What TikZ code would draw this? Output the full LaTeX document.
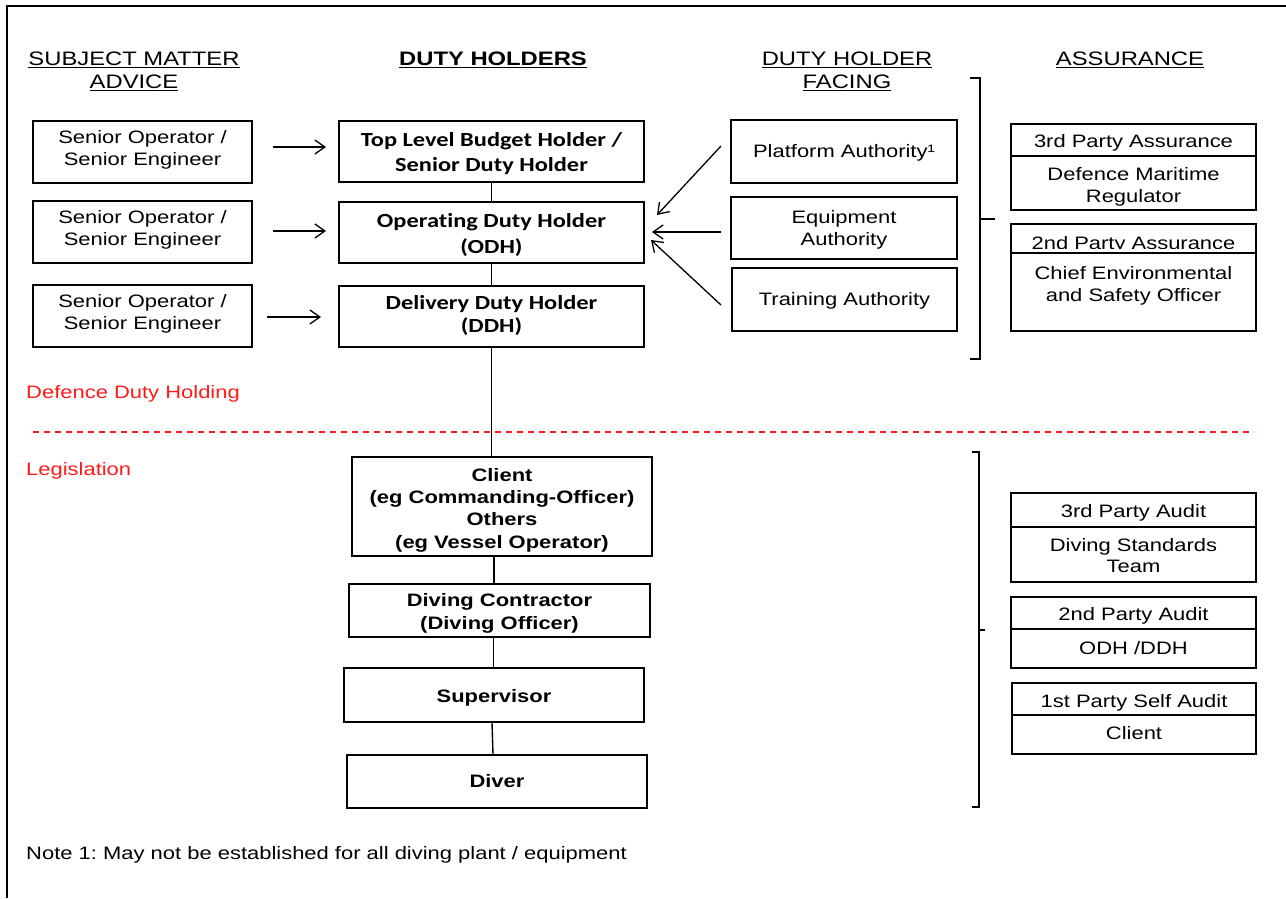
\documentclass[tikz,border=0pt]{standalone}
\usepackage{fontspec}
\setmainfont{Liberation Sans}[FakeStretch=1.22]
\newfontfamily\calfont{Carlito}[FakeStretch=1.22, Ligatures=NoCommon]
\usetikzlibrary{arrows.meta}
\frenchspacing
\newcommand\myul[1]{\setbox0\hbox{#1}\rlap{\rule[-2.8pt]{\wd0}{1.3pt}}\box0}
\definecolor{legred}{HTML}{FF1A1A}
% name, text style, cx, cy, width, height, text dy, text
\newcommand\tbox[8]{%
  \node[frame, minimum width=#5pt, minimum height=#6pt] (#1) at (#3,#4) {};
  \node[#2] (#1-t) at ({#3},{#4+(#7)}) {#8};}
\begin{document}
\begin{tikzpicture}[x=1pt,y=-1pt,
  frame/.style={draw=black, line width=1.8pt, inner sep=0pt},
  tx/.style={inner sep=0pt, align=center, font=\fontsize{18}{21.7}\selectfont},
  htx/.style={inner sep=0pt, align=center, font=\calfont\bfseries\fontsize{20}{25}\selectfont},
  ltx/.style={inner sep=0pt, align=center, font=\bfseries\fontsize{18}{22.3}\selectfont},
  hdr/.style={inner sep=0pt, align=center, font=\fontsize{19.5}{23}\selectfont},
  redlbl/.style={inner sep=0pt, anchor=west, text=legred, font=\fontsize{18}{21.7}\selectfont},
  conn/.style={line width=1.4pt},
  arr/.style={line width=1.3pt, -{Straight Barb[length=10pt,width=14pt,line width=1.3pt]}},
  brk/.style={line width=1.2pt}]
\useasboundingbox (0,0) rectangle (1286,898);
% frame
\draw[line width=2.5pt] (7,898) -- (7,6) -- (1286,6);
% headers
\node[hdr] (h1) at (134,71.5) {\myul{SUBJECT MATTER}\\\myul{ADVICE}};
\node[hdr, font=\bfseries\fontsize{19.5}{23}\selectfont] (h2) at (493,60) {\myul{DUTY HOLDERS}};
\node[hdr] (h3) at (847,71.5) {\myul{DUTY HOLDER}\\\myul{FACING}};
\node[hdr] (h4) at (1130,60) {\myul{ASSURANCE}};
% subject matter advice
\tbox{sme1}{tx}{142.5}{152}{219}{62}{-2}{Senior Operator /\\Senior Engineer}
\tbox{sme2}{tx}{142.5}{232}{219}{62}{-2}{Senior Operator /\\Senior Engineer}
\tbox{sme3}{tx}{142.5}{316}{219}{62}{-2}{Senior Operator /\\Senior Engineer}
% duty holders
\tbox{tlb}{htx}{491.5}{151.5}{305}{61}{2.5}{Top Level Budget Holder /\\Senior Duty Holder}
\tbox{odh}{htx, font=\calfont\bfseries\fontsize{20}{26}\selectfont}{491.5}{232.5}{305}{61}{2}{Operating Duty Holder\\(ODH)}
\tbox{ddh}{htx, font=\calfont\bfseries\fontsize{20}{22.5}\selectfont}{491.5}{316.5}{305}{61}{-1}{Delivery Duty Holder\\(DDH)}
% legislation chain
\tbox{client}{ltx}{502}{506.5}{300}{99}{3.5}{Client\\(eg Commanding-Officer)\\Others\\(eg Vessel Operator)}
\tbox{dc}{ltx}{499.5}{610.5}{301}{53}{3}{Diving Contractor\\(Diving Officer)}
\tbox{sup}{ltx}{494}{695}{300}{54}{3}{Supervisor}
\tbox{diver}{ltx}{497}{781.5}{300}{53}{0}{Diver}
% duty holder facing
\tbox{pa}{tx}{844}{151.5}{226}{63}{1}{Platform Authority¹}
\tbox{ea}{tx}{844}{228}{226}{62}{2}{Equipment\\Authority}
\tbox{ta}{tx}{844.5}{299.5}{225}{63}{1}{Training Authority}
% assurance
\tbox{a1h}{tx}{1133.5}{140}{245}{32}{3}{3rd Party Assurance}
\tbox{a1b}{tx}{1133.5}{183}{245}{54}{4}{Defence Maritime\\Regulator}
\node[frame, minimum width=245pt, minimum height=29pt] (a2h) at (1133.5,238.5) {};
\begin{scope}
  \clip (1012,225) rectangle (1255,248);
  \node[tx, anchor=base] (a2h-t) at (1133.5,249) {2nd Party Assurance};
\end{scope}
\tbox{a2b}{tx}{1133.5}{292}{245}{78}{-6}{Chief Environmental\\and Safety Officer}
% audit
\tbox{b1h}{tx}{1133.5}{510}{245}{34}{3}{3rd Party Audit}
\tbox{b1b}{tx}{1133.5}{554.5}{245}{55}{1}{Diving Standards\\Team}
\tbox{b2h}{tx}{1133.5}{613}{245}{32}{3}{2nd Party Audit}
\tbox{b2b}{tx}{1133.5}{648.5}{245}{39}{0}{ODH /DDH}
\tbox{b3h}{tx}{1134}{699}{244}{32}{4}{1st Party Self Audit}
\tbox{b3b}{tx}{1134}{734.5}{244}{39}{-1}{Client}
% red labels and divider
\node[redlbl] (ddhold) at (26,394) {Defence Duty Holding};
\node[redlbl] (legis) at (26,471) {Legislation};
\draw[legred, line width=1.3pt, dash pattern=on 6pt off 5pt] (33,432) -- (1254,432);
% note
\node[tx, anchor=west] (note) at (26,855) {Note 1: May not be established for all diving plant / equipment};
% vertical connectors
\draw[conn] (tlb.south) -- (odh.north);
\draw[conn] (odh.south) -- (ddh.north);
\draw[conn] (ddh.south) -- (ddh.south |- client.north);
\draw[conn] ([xshift=-8pt]client.south) -- ([xshift=-8pt]client.south |- dc.north);
\draw[conn] ([xshift=-6pt]dc.south) -- ([xshift=-6pt]dc.south |- sup.north);
\draw[conn] ([xshift=-2pt]sup.south) -- ([xshift=-4pt]diver.north);
% arrows from advice
\coordinate (s1a) at (273,147); \coordinate (s1b) at (326,147);
\coordinate (s2a) at (273,231); \coordinate (s2b) at (326,231);
\coordinate (s3a) at (267,317); \coordinate (s3b) at (321,317);
\draw[arr] (s1a) -- (s1b);
\draw[arr] (s2a) -- (s2b);
\draw[arr] (s3a) -- (s3b);
% arrows from facing
\coordinate (f1a) at (721,146); \coordinate (f1b) at (657,215);
\coordinate (f2a) at (721,232); \coordinate (f2b) at (652,232);
\coordinate (f3a) at (721,305); \coordinate (f3b) at (651,240);
\draw[arr] (f1a) -- (f1b);
\draw[arr] (f2a) -- (f2b);
\draw[arr] (f3a) -- (f3b);
% brackets
\draw[brk] (970,78) -- (980,78) -- (980,359) -- (970,359);
\draw[brk] (980,219) -- (995,219);
\draw[brk] (972,452) -- (979,452) -- (979,807) -- (972,807);
\draw[brk] (979,630) -- (985,630);
\end{tikzpicture}
\end{document}
